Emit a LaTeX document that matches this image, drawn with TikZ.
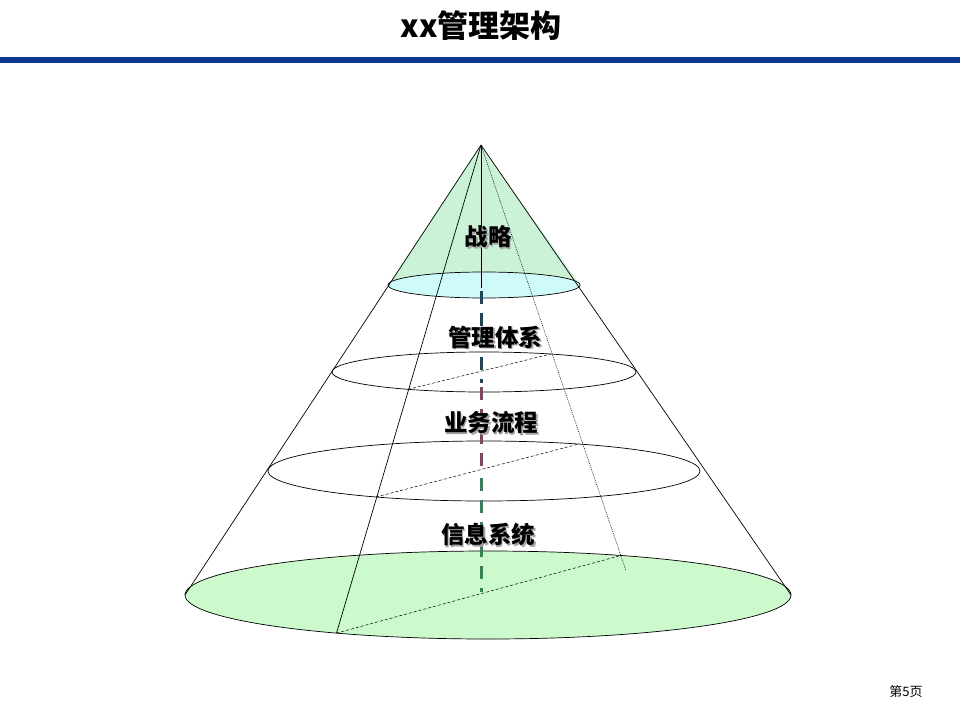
\documentclass[tikz,border=0pt]{standalone}
\usepackage{fontspec}
\newfontfamily\cjk{Noto Sans CJK SC}
\usetikzlibrary{calc}
\definecolor{barblue}{RGB}{14,56,140}
\definecolor{topgreen}{RGB}{204,242,214}
\definecolor{topcyan}{RGB}{206,250,250}
\definecolor{botgreen}{RGB}{204,250,204}
\definecolor{dteal}{RGB}{28,70,90}
\definecolor{dmaroon}{RGB}{130,70,100}
\definecolor{dgreen}{RGB}{50,130,90}
\begin{document}
\begin{tikzpicture}[x=1pt,y=-1pt,
  lbl/.style={font=\cjk\bfseries\fontsize{23.5}{23.5}\selectfont, inner sep=0pt},
  shadowlbl/.style={lbl, text=black!35},
  rim/.style={draw=black, line width=0.7pt},
  gen/.style={draw=black, line width=0.7pt},
  chord/.style={draw=black, line width=0.5pt, dash pattern=on 3pt off 2pt},
  dotgen/.style={draw=black, line width=0.5pt, dash pattern=on 1pt off 1pt},
  axisseg/.style={line width=3pt, dash pattern=on 13pt off 9pt}]
\useasboundingbox (0,0) rectangle (960,720);
\fill[white] (0,0) rectangle (960,720);
% title and bar
\node[font=\cjk\bfseries\fontsize{31}{31}\selectfont, inner sep=0pt] (title) at (481,26) {xx管理架构};
\fill[barblue] (0,57) rectangle (960,63);
\node[font=\cjk\fontsize{13}{13}\selectfont, inner sep=0pt] (page) at (906,692) {第5页};
% key points
\coordinate (apex) at (481,145);
\coordinate (e1) at (484,285);
\coordinate (e2) at (484,372);
\coordinate (e3) at (484,471);
\coordinate (e4) at (488,595);
\coordinate (e1l) at (388,285);
\coordinate (e1r) at (580,285);
\coordinate (e4l) at (185,595);
\coordinate (e4r) at (791,595);
% top cone fill
\fill[topgreen] (apex) -- (e1l) -- (e1r) -- cycle;
\filldraw[fill=topcyan, rim] (e1) ellipse [x radius=96pt, y radius=13pt];
% bottom ellipse
\filldraw[fill=botgreen, rim] (e4) ellipse [x radius=303pt, y radius=44pt];
% middle ellipses
\draw[rim] (e2) ellipse [x radius=152pt, y radius=20pt];
\draw[rim] (e3) ellipse [x radius=216pt, y radius=30pt];
% generatrix points
\coordinate (p2a) at ($(e2)+(120:152 and 20)$);
\coordinate (p2b) at ($(e2)+(-64:152 and 20)$);
\coordinate (p3a) at ($(e3)+(120:216 and 30)$);
\coordinate (p3b) at ($(e3)+(-64:216 and 30)$);
\coordinate (p4a) at ($(e4)+(120:303 and 44)$);
\coordinate (p4b) at ($(e4)+(-64:303 and 44)$);
\coordinate (dotend) at ($(apex)!1.035!(p4b)$);
% chords
\draw[chord] (p2a) -- (p2b);
\draw[chord] (p3a) -- (p3b);
\draw[chord] (p4a) -- (p4b);
% cone sides
\draw[gen] (apex) -- (e4l);
\draw[gen] (apex) -- (e4r);
\draw[gen] (apex) -- (p4a);
\draw[dotgen] (apex) -- (dotend);
% axis
\coordinate (ax0) at (481,145);
\coordinate (ax1) at (481,288);
\coordinate (ax2) at (481,383);
\coordinate (ax3) at (481,472);
\coordinate (ax4) at (481,592);
\draw[line width=0.6pt] (ax0) -- (ax1);
\draw[axisseg, draw=dteal, dash phase=-3pt] (ax1) -- (ax2);
\draw[axisseg, draw=dmaroon, dash phase=-4pt] (ax2) -- (ax3);
\draw[axisseg, draw=dgreen, dash phase=-6pt] (ax3) -- (ax4);
% labels with shadow
\node[shadowlbl] (s1) at (489.5,238.5) {战略};
\node[lbl] (l1) at (488,237) {战略};
\node[shadowlbl] (s2) at (496.5,338.5) {管理体系};
\node[lbl] (l2) at (495,337) {管理体系};
\node[shadowlbl] (s3) at (492.5,424.5) {业务流程};
\node[lbl] (l3) at (491,423) {业务流程};
\node[shadowlbl] (s4) at (489.5,536.5) {信息系统};
\node[lbl] (l4) at (488,535) {信息系统};
\end{tikzpicture}
\end{document}
